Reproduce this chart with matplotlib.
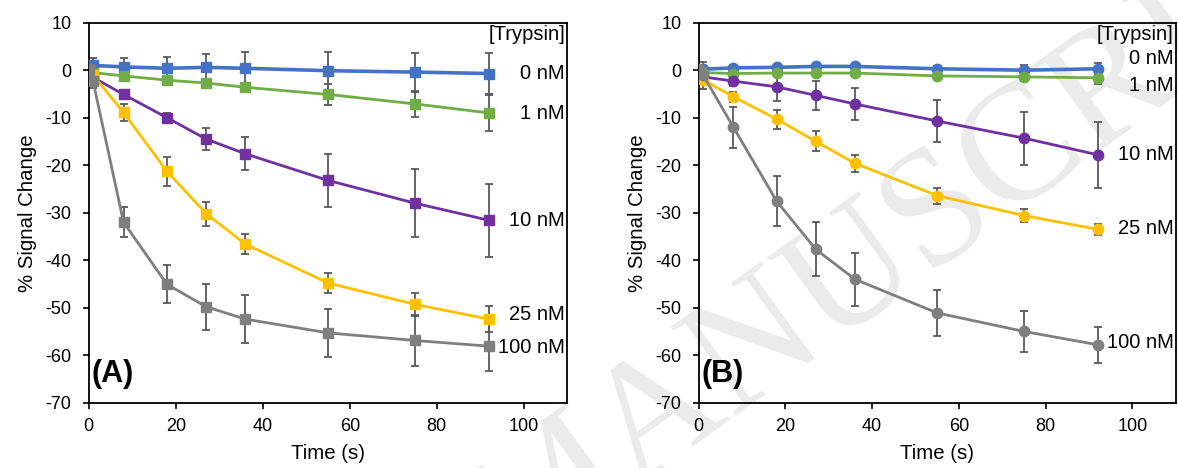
import matplotlib
matplotlib.use("Agg")
import matplotlib.pyplot as plt

plt.rcParams['font.family'] = ['Liberation Sans', 'DejaVu Sans']
plt.rcParams['axes.unicode_minus'] = False

# ---- data ----
time_s = [0, 1, 8, 18, 27, 36, 55, 75, 92]
labels = ["0 nM", "1 nM", "10 nM", "25 nM", "100 nM"]

a_0nM = [0, 1.0, 0.7, 0.4, 0.6, 0.4, -0.1, -0.4, -0.7]
a_0nM_err = [0, 1.5, 1.9, 2.3, 2.9, 3.4, 4.0, 4.1, 4.3]
a_1nM = [0, -0.5, -1.2, -2.1, -2.7, -3.6, -5.1, -7.1, -9.0]
a_1nM_err = [0, 0.5, 0.6, 0.7, 0.8, 1.0, 2.2, 2.7, 3.7]
a_10nM = [0, -1.5, -5.1, -10.0, -14.5, -17.6, -23.2, -28.0, -31.6]
a_10nM_err = [0, 0.5, 0.8, 1.0, 2.4, 3.5, 5.5, 7.2, 7.7]
a_25nM = [0, -1.0, -8.9, -21.3, -30.2, -36.6, -44.8, -49.3, -52.4]
a_25nM_err = [0, 0.5, 1.7, 3.1, 2.5, 2.1, 2.2, 2.5, 2.7]
a_100nM = [0, -2.3, -32.0, -45.1, -49.8, -52.4, -55.3, -56.9, -58.1]
a_100nM_err = [0, 1.5, 3.2, 4.0, 4.8, 5.0, 5.1, 5.3, 5.2]

b_0nM = [0, 0.2, 0.5, 0.6, 0.8, 0.8, 0.3, 0.0, 0.3]
b_0nM_err = [0, 1.6, 0.4, 0.4, 0.5, 0.5, 0.6, 1.1, 1.2]
b_1nM = [0, -0.5, -0.7, -0.6, -0.6, -0.6, -1.2, -1.4, -1.6]
b_1nM_err = [0, 0.4, 0.4, 0.4, 0.4, 0.4, 0.5, 0.9, 1.4]
b_10nM = [0, -1.4, -2.3, -3.5, -5.3, -7.1, -10.7, -14.3, -17.8]
b_10nM_err = [0, 0.5, 1.0, 2.9, 3.1, 3.4, 4.5, 5.6, 6.9]
b_25nM = [0, -2.0, -5.6, -10.3, -15.0, -19.6, -26.4, -30.6, -33.5]
b_25nM_err = [0, 2.0, 1.0, 2.0, 2.1, 1.8, 1.7, 1.3, 1.2]
b_100nM = [0, -1.0, -12.0, -27.6, -37.7, -44.0, -51.1, -55.0, -57.8]
b_100nM_err = [0, 0.5, 4.3, 5.3, 5.7, 5.6, 4.9, 4.3, 3.8]

colors = ["#4472C4", "#70AD47", "#7030A0", "#FFC000", "#7F7F7F"]
err_color = "#595959"

panels = [
    dict(ax=[88.7/1178, 1-402.7/468, (567.3-88.7)/1178, (402.7-22.7)/468],
         series=[a_0nM, a_1nM, a_10nM, a_25nM, a_100nM],
         errs=[a_0nM_err, a_1nM_err, a_10nM_err, a_25nM_err, a_100nM_err],
         marker='s', ms=6.5, tag="(A)",
         label_y=[-0.6, -9.2, -31.7, -51.5, -58.4]),
    dict(ax=[698.7/1178, 1-402.7/468, (1175.7-698.7)/1178, (402.7-22.7)/468],
         series=[b_0nM, b_1nM, b_10nM, b_25nM, b_100nM],
         errs=[b_0nM_err, b_1nM_err, b_10nM_err, b_25nM_err, b_100nM_err],
         marker='o', ms=7.5, tag="(B)",
         label_y=[2.4, -3.2, -17.8, -33.4, -57.3]),
]

fig = plt.figure(figsize=(11.78, 4.68), dpi=100)

# watermark (behind the plots)
wm = fig.text(925/1178, 1-225/468, "MANUSCRIPT", fontsize=120, color="#ebebeb",
              family="Liberation Serif", rotation=36, ha="center", va="center",
              rotation_mode="anchor", zorder=-5)
wm.set_clip_on(True)

for p in panels:
    ax = fig.add_axes(p["ax"])
    ax.patch.set_alpha(0)
    for i, (y, e) in enumerate(zip(p["series"], p["errs"])):
        ax.errorbar(time_s, y, yerr=e, fmt='none', ecolor=err_color,
                    elinewidth=1.3, capsize=3.2, capthick=1.3, zorder=2 + i * 0.1)
        ax.plot(time_s, y, color=colors[i], lw=2.0 if i else 2.6,
                marker=p["marker"], ms=p["ms"], mec=colors[i], mfc=colors[i],
                zorder=3 + i * 0.1)
    ax.set_xlim(0, 110)
    ax.set_ylim(-70, 10)
    ax.set_xticks(range(0, 101, 20))
    ax.set_yticks(range(-70, 11, 10))
    ax.tick_params(axis='both', direction='out', length=4.3, width=1.2,
                   labelsize=13, colors='black')
    ax.tick_params(axis='x', pad=7)
    ax.tick_params(axis='y', pad=8)
    for s in ax.spines.values():
        s.set_linewidth(1.3)
        s.set_color('black')
    ax.set_xlabel("Time (s)", fontsize=14.7, labelpad=6)
    ax.set_ylabel("% Signal Change", fontsize=14.7, labelpad=6)
    ax.text(109.5, 7.5, "[Trypsin]", ha='right', va='center', fontsize=14.5)
    for lab, ly in zip(labels, p["label_y"]):
        ax.text(109.5, ly, lab, ha='right', va='center', fontsize=14.5)
    ax.text(0.6, -64, p["tag"], ha='left', va='center', fontsize=22,
            fontweight='bold')

fig.savefig("out.png", dpi=100)
